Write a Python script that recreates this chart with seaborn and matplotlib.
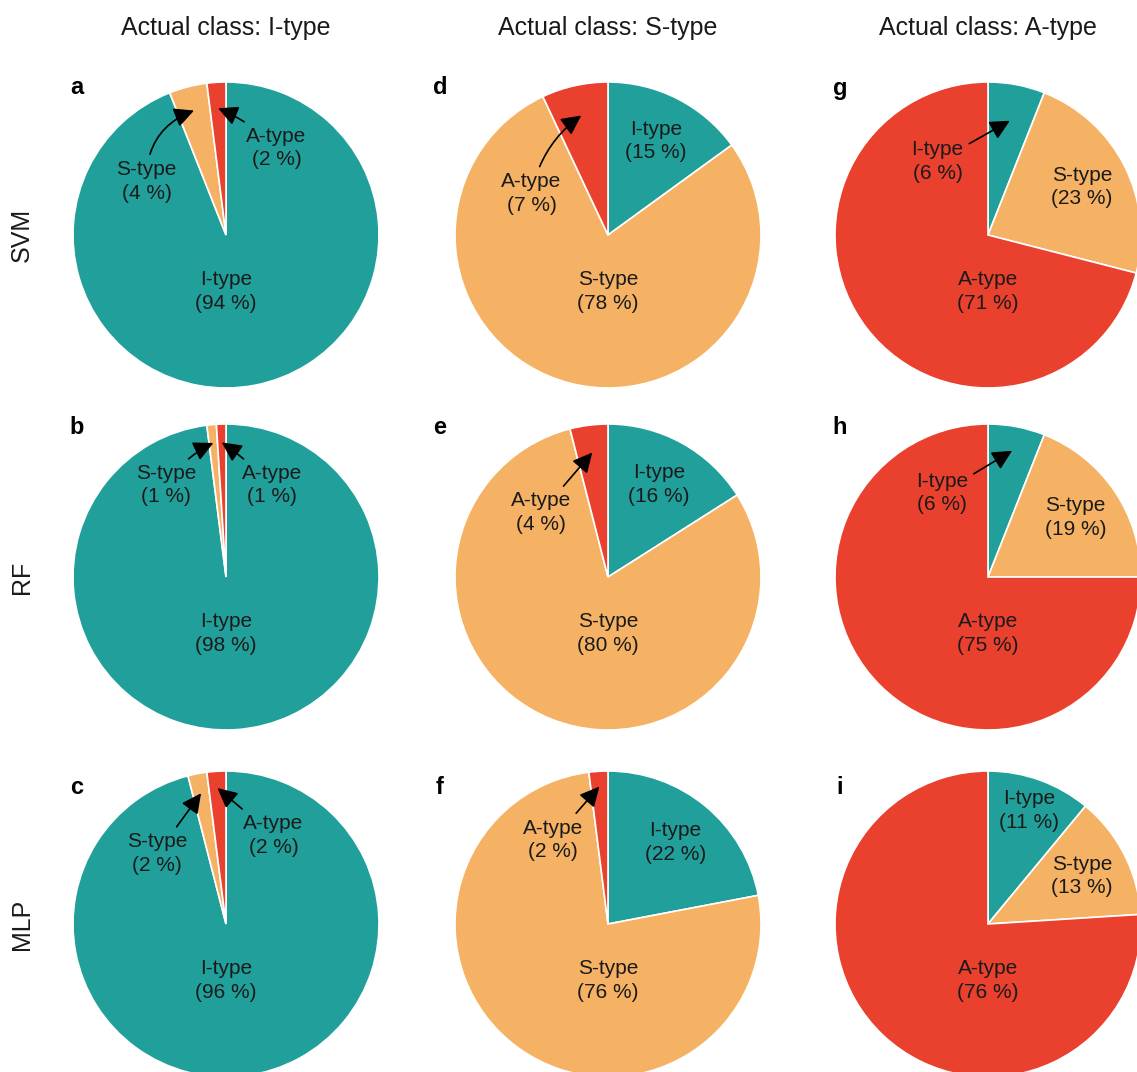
import matplotlib
matplotlib.use("Agg")
import matplotlib.pyplot as plt
import numpy as np
import seaborn as sns

# ---- data -------------------------------------------------------------
classes = ["I-type", "S-type", "A-type"]
models = ["SVM", "RF", "MLP"]
actual_titles = ["Actual class: I-type", "Actual class: S-type", "Actual class: A-type"]
panel_letters = [["a", "d", "g"], ["b", "e", "h"], ["c", "f", "i"]]

# predicted-class shares (%) per model (rows) and actual class (columns)
svm_pct = [[94, 4, 2], [15, 78, 7], [6, 23, 71]]
rf_pct = [[98, 1, 1], [16, 80, 4], [6, 19, 75]]
mlp_pct = [[96, 2, 2], [22, 76, 2], [11, 13, 76]]
shares = [svm_pct, rf_pct, mlp_pct]

# ---- style ------------------------------------------------------------
sns.set_theme(style="white")
plt.rcParams["font.family"] = ["Liberation Sans", "DejaVu Sans"]
palette = sns.color_palette(["#21A09B", "#F5B264", "#EA402E"])
text_col = "#1a1a1a"

W, H = 1137, 1072
fig = plt.figure(figsize=(W / 100, H / 100), dpi=100)

R = 153
col_cx = [226, 608, 988]
row_cy = [235, 577, 924]
letter_x = [77, 440, 840]
letter_y = [88, 428, 788]

# callout placement for thin slices: (row, col, class) -> (text x, text y, arc rad, tip radius)
callouts = {
    (0, 0, 1): (-0.52, 0.35, -0.35, 0.84),
    (0, 0, 2): (0.33, 0.57, 0.1, 0.83),
    (1, 0, 1): (-0.39, 0.60, -0.15, 0.88),
    (1, 0, 2): (0.30, 0.60, 0.05, 0.88),
    (2, 0, 1): (-0.45, 0.46, 0.0, 0.87),
    (2, 0, 2): (0.31, 0.58, 0.0, 0.89),
    (0, 1, 2): (-0.50, 0.27, -0.2, 0.80),
    (1, 1, 2): (-0.44, 0.42, 0.0, 0.82),
    (2, 1, 2): (-0.36, 0.55, 0.0, 0.90),
    (0, 2, 0): (-0.33, 0.48, 0.0, 0.76),
    (1, 2, 0): (-0.30, 0.55, 0.0, 0.84),
}

label_kw = dict(ha="center", va="center", fontsize=15, color=text_col,
                linespacing=1.3)

for r in range(3):
    for c in range(3):
        cx, cy = col_cx[c], row_cy[r]
        ax = fig.add_axes([(cx - R) / W, 1 - (cy + R) / H, 2 * R / W, 2 * R / H])
        vals = shares[r][c]
        wedges, _ = ax.pie(vals, colors=palette, startangle=90, counterclock=False,
                           radius=1.0,
                           wedgeprops=dict(edgecolor="white", linewidth=1.2))
        ax.set_xlim(-1, 1)
        ax.set_ylim(-1, 1)
        ax.set_aspect("equal")
        ax.axis("off")
        for k, (w, v) in enumerate(zip(wedges, vals)):
            mid = np.deg2rad((w.theta1 + w.theta2) / 2)
            txt = f"{classes[k]}\n({v} %)"
            if v >= 50:
                ax.text(0, -0.37, txt, **label_kw)
            elif v >= 10:
                rad = 0.79 if v < 12 else 0.69
                ax.text(rad * np.cos(mid), rad * np.sin(mid), txt, **label_kw)
            else:
                tx, ty, arc, tip_r = callouts[(r, c, k)]
                ax.annotate(txt, xy=(tip_r * np.cos(mid), tip_r * np.sin(mid)),
                            xytext=(tx, ty), **label_kw,
                            arrowprops=dict(arrowstyle="-|>,head_length=0.8,head_width=0.4",
                                            color="black", lw=1.2,
                                            connectionstyle=f"arc3,rad={arc}",
                                            shrinkA=2, shrinkB=0))
        fig.text(letter_x[c] / W, 1 - letter_y[r] / H, panel_letters[r][c],
                 ha="center", va="center", fontsize=17, fontweight="bold", color="black")

for c in range(3):
    fig.text(col_cx[c] / W, 1 - 28 / H, actual_titles[c], ha="center", va="center",
             fontsize=18, color=text_col)
for r in range(3):
    fig.text(22 / W, 1 - row_cy[r] / H, models[r], ha="center", va="center",
             rotation=90, fontsize=18, color=text_col)

fig.savefig("out.png", dpi=100, facecolor="white")
